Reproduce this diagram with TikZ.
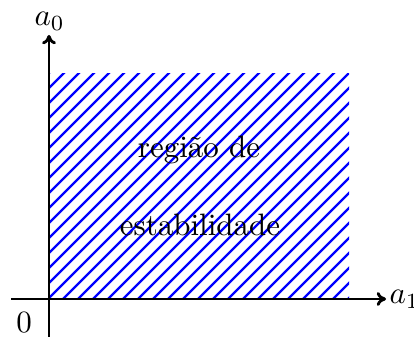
\documentclass[tikz,border=0pt]{standalone}
\usetikzlibrary{arrows.meta}
\begin{document}
\begin{tikzpicture}[x=0.323pt,y=-0.323pt,
  axis/.style={line width=0.95pt,-{To[length=3pt,width=4.5pt]}},
  hatch/.style={blue,line width=0.7pt},
  lbl/.style={inner sep=0pt}]
\useasboundingbox (0,0) rectangle (414,337);
\begin{scope}
  \clip (50,74) rectangle (349,298);
  \foreach \k in {-16,...,21}{
    \draw[hatch] ({347+15*\k-400},400) -- ({347+15*\k},0);
  }
\end{scope}
\coordinate (xs) at (11,299);
\coordinate (xe) at (386,299);
\coordinate (ys) at (49,337);
\coordinate (ye) at (49,35);
\draw[axis] (xs) -- (xe);
\draw[axis] (ys) -- (ye);
\node[lbl,anchor=base west] (a1) at (389,304) {$a_1$};
\node[lbl,anchor=base west] (a0) at (34,26) {$a_0$};
\node[lbl,anchor=base] (o) at (24,333) {$0$};
\node[lbl,anchor=base] (t1) at (199,158) {região de};
\node[lbl,anchor=base] (t2) at (200,236) {estabilidade};
\end{tikzpicture}
\end{document}
